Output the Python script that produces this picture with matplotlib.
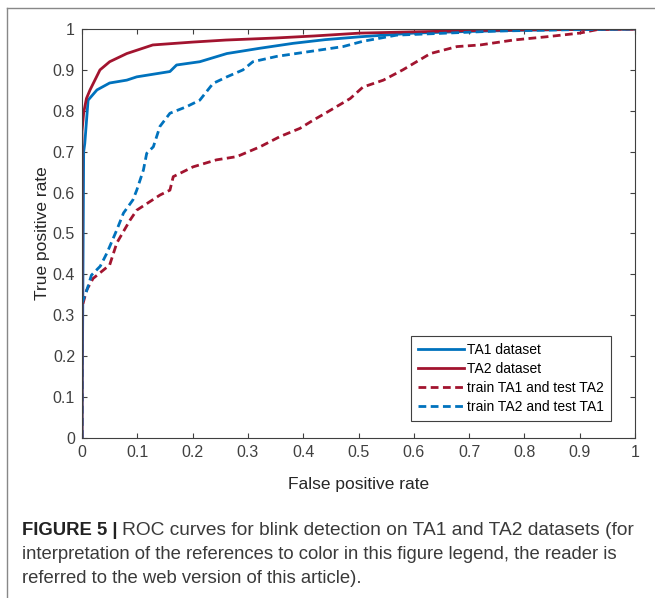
import matplotlib
matplotlib.use("Agg")
import matplotlib.pyplot as plt
from matplotlib.lines import Line2D

plt.rcParams['font.family'] = ['Liberation Sans', 'DejaVu Sans']

# curve points (false positive rate, true positive rate)
ta1_fpr = [0, 0.003, 0.005, 0.011, 0.027, 0.05, 0.081, 0.099, 0.159, 0.171, 0.213,
           0.262, 0.322, 0.382, 0.44, 0.503, 0.6, 0.7, 0.8, 0.9, 1.0]
ta1_tpr = [0, 0.70, 0.72, 0.826, 0.851, 0.868, 0.875, 0.883, 0.896, 0.912, 0.92,
           0.94, 0.953, 0.965, 0.974, 0.981, 0.99, 0.994, 0.997, 0.999, 1.0]

ta2_fpr = [0, 0.0, 0.003, 0.008, 0.0145, 0.0325, 0.05, 0.081, 0.128, 0.2, 0.26,
           0.35, 0.42, 0.503, 0.6, 0.7, 0.8, 0.9, 1.0]
ta2_tpr = [0, 0.75, 0.795, 0.83, 0.851, 0.9, 0.92, 0.94, 0.961, 0.968, 0.973,
           0.978, 0.983, 0.99, 0.993, 0.996, 0.998, 0.999, 1.0]

tr1_te2_fpr = [0, 0.0, 0.0085, 0.02, 0.05, 0.063, 0.087, 0.099, 0.141, 0.159, 0.165,
               0.201, 0.243, 0.28, 0.322, 0.358, 0.394, 0.418, 0.445, 0.485, 0.508,
               0.545, 0.58, 0.605, 0.63, 0.678, 0.72, 0.78, 0.84, 0.9, 0.93, 0.96, 1.0]
tr1_te2_tpr = [0, 0.32, 0.362, 0.39, 0.423, 0.477, 0.533, 0.557, 0.594, 0.606, 0.639,
               0.663, 0.68, 0.688, 0.712, 0.737, 0.757, 0.777, 0.798, 0.83, 0.858,
               0.875, 0.9, 0.92, 0.94, 0.957, 0.961, 0.973, 0.981, 0.99, 0.998, 1.0, 1.0]

tr2_te1_fpr = [0, 0.0, 0.0085, 0.017, 0.033, 0.045, 0.063, 0.075, 0.092, 0.099, 0.111,
               0.117, 0.129, 0.141, 0.159, 0.189, 0.213, 0.237, 0.262, 0.291, 0.309,
               0.352, 0.412, 0.472, 0.508, 0.569, 0.66, 0.75, 0.87, 1.0]
tr2_te1_tpr = [0, 0.33, 0.36, 0.398, 0.42, 0.452, 0.509, 0.55, 0.582, 0.606, 0.655,
               0.696, 0.712, 0.762, 0.794, 0.81, 0.826, 0.867, 0.883, 0.9, 0.92,
               0.933, 0.945, 0.957, 0.97, 0.985, 0.99, 0.995, 0.998, 1.0]

ticks = [0, 0.1, 0.2, 0.3, 0.4, 0.5, 0.6, 0.7, 0.8, 0.9, 1]
tick_labels = ['0', '0.1', '0.2', '0.3', '0.4', '0.5', '0.6', '0.7', '0.8', '0.9', '1']

blue = '#0072BD'
red = '#A2142F'
axcol = '#404040'
txtcol = '#3a3a3a'

fig = plt.figure(figsize=(6.55, 5.98), dpi=100)
ax = fig.add_axes([0.1252, 0.2676, 0.8443, 0.6839])

ax.plot(ta1_fpr, ta1_tpr, color=blue, lw=2.0, label='TA1 dataset')
ax.plot(ta2_fpr, ta2_tpr, color=red, lw=2.0, label='TA2 dataset')
ax.plot(tr1_te2_fpr, tr1_te2_tpr, color=red, lw=2.0, dashes=(2.8, 1.6),
        label='train TA1 and test TA2')
ax.plot(tr2_te1_fpr, tr2_te1_tpr, color=blue, lw=2.0, dashes=(2.8, 1.6),
        label='train TA2 and test TA1')

ax.set_xlim(0, 1)
ax.set_ylim(0, 1)
ax.set_xticks(ticks)
ax.set_xticklabels(tick_labels)
ax.set_yticks(ticks)
ax.set_yticklabels(tick_labels)
ax.tick_params(direction='in', length=3.5, width=0.8, top=True, right=True,
               labelsize=11.5, colors=axcol, pad=5)
for s in ax.spines.values():
    s.set_color(axcol)
    s.set_linewidth(0.8)

ax.set_xlabel('False positive rate', fontsize=12.5, color='#262626', labelpad=12)
ax.set_ylabel('True positive rate', fontsize=12.5, color='#262626', labelpad=2)

leg = ax.legend(loc='lower right', bbox_to_anchor=(0.957, 0.042), fontsize=10,
                fancybox=False, edgecolor=axcol, framealpha=1, handlelength=3.3,
                handletextpad=0.25, labelspacing=0.36, borderpad=0.5,
                borderaxespad=0)
leg.get_frame().set_linewidth(0.8)

# frame lines around the figure panel
fig.add_artist(Line2D([7 / 655, 7 / 655], [0, 1 - 8 / 598], color='#888888', lw=1.0))
fig.add_artist(Line2D([7 / 655, 1], [1 - 8 / 598, 1 - 8 / 598], color='#888888', lw=1.0))

# caption
cap_x = 22 / 655
fs = 13.3
t = fig.text(cap_x, 1 - 535 / 598, 'FIGURE 5 |', fontsize=fs, weight='bold',
             color='#222222', va='baseline')
fig.canvas.draw()
bb = t.get_window_extent()
fig.text(bb.x1 / fig.bbox.width + 5 / 655, 1 - 535 / 598,
         'ROC curves for blink detection on TA1 and TA2 datasets (for',
         fontsize=13.8, color=txtcol, va='baseline')
fig.text(cap_x, 1 - 559 / 598,
         'interpretation of the references to color in this figure legend, the reader is',
         fontsize=fs, color=txtcol, va='baseline')
fig.text(cap_x, 1 - 583 / 598, 'referred to the web version of this article).',
         fontsize=fs, color=txtcol, va='baseline')

fig.savefig('out.png', dpi=100)
